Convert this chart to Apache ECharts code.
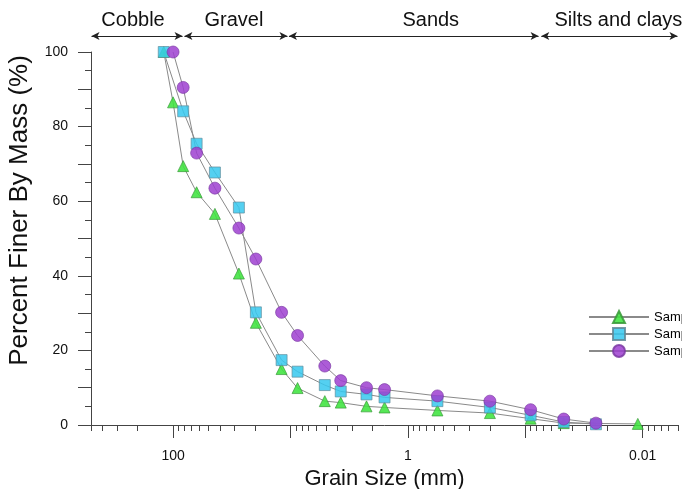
<!DOCTYPE html>
<html><head><meta charset="utf-8">
<script src="https://cdn.jsdelivr.net/npm/echarts@6/dist/echarts.min.js"></script>
<style>html,body{margin:0;padding:0;background:#fff}#c{width:682px;height:489px}</style>
</head><body><div id="c"></div>
<script>
// ---- data (grain size in mm, percent finer by mass) ----
const seriesNames = ['Sample 1', 'Sample 2', 'Sample 3'];
const s1Sizes  = [120, 100, 82, 63, 44, 27.5, 19.7, 11.9, 8.7, 5.1, 3.73, 2.25, 1.58, 0.56, 0.2, 0.09, 0.047, 0.011];
const s1Values = [100, 86.5, 69.4, 62.4, 56.6, 40.6, 27.4, 15.0, 9.9, 6.4, 6.0, 5.0, 4.7, 3.9, 3.2, 1.7, 0.5, 0.3];
const s2Sizes  = [120, 82, 63, 44, 27.5, 19.7, 11.9, 8.7, 5.1, 3.73, 2.25, 1.58, 0.56, 0.2, 0.09, 0.047, 0.025];
const s2Values = [100, 84.1, 75.4, 67.7, 58.3, 30.2, 17.4, 14.3, 10.7, 9.0, 8.2, 7.4, 6.4, 4.7, 2.6, 0.8, 0.2];
const s3Sizes  = [100, 82, 63, 44, 27.5, 19.7, 11.9, 8.7, 5.1, 3.73, 2.25, 1.58, 0.56, 0.2, 0.09, 0.047, 0.025];
const s3Values = [100, 90.5, 72.9, 63.5, 52.8, 44.5, 30.2, 24.0, 15.8, 11.9, 10.0, 9.5, 7.8, 6.4, 4.1, 1.6, 0.5];

// ---- axes ----
const xMin = 0.005, xMax = 500;
const xMajorTicks = [100, 10, 1, 0.1, 0.01];
const xLabelValues = [100, 1, 0.01];
const xTickLabels = ['100', '1', '0.01'];
const xMinorTicks = [500, 400, 300, 200, 90, 80, 70, 60, 50, 40, 30, 20, 9, 8, 7, 6, 5, 4, 3, 2,
  0.9, 0.8, 0.7, 0.6, 0.5, 0.4, 0.3, 0.2, 0.09, 0.08, 0.07, 0.06, 0.05, 0.04, 0.03, 0.02,
  0.009, 0.008, 0.007, 0.006, 0.005];
const yLabelValues = [0, 20, 40, 60, 80, 100];

// ---- soil class bands ----
const bandNames = ['Cobble', 'Gravel', 'Sands', 'Silts and clays'];
const bandFrom = [495, 80, 10.3, 0.073];
const bandTo   = [83, 10.6, 0.077, 0.00505];

const FONT = 'Liberation Sans';
const lg = Math.log10;
const AXIS_COLOR = '#444';

const chart = echarts.init(document.getElementById('c'), null, {renderer: 'canvas'});

const common = {
  type: 'line', xAxisIndex: 0, yAxisIndex: 0, clip: false,
  lineStyle: {color: '#8a8a8a', width: 1},
  emphasis: {disabled: true}
};

const bandLabelShift = [-4, -2, 17, 9];

const option = {
  animation: false,
  backgroundColor: '#fff',
  textStyle: {fontFamily: FONT},
  grid: [
    {left: 91, right: 4, top: 52, bottom: 64, outerBoundsMode: 'none', containLabel: false},
    {left: 91, right: 4, top: 26, height: 20, outerBoundsMode: 'none', containLabel: false}
  ],
  legend: {
    orient: 'vertical', left: 583, top: 305,
    itemWidth: 60, itemHeight: 15, itemGap: 3,
    data: seriesNames,
    textStyle: {fontFamily: FONT, fontSize: 13, color: '#000'},
    selectedMode: false
  },
  xAxis: [
    {
      type: 'log', gridIndex: 0, position: 'bottom', min: xMin, max: xMax, inverse: true, logBase: 10,
      axisLine: {show: true, onZero: false, lineStyle: {color: AXIS_COLOR, width: 1}},
      axisTick: {show: false}, axisLabel: {show: false}, splitLine: {show: false}, minorTick: {show: false}
    },
    {
      type: 'value', gridIndex: 0, position: 'bottom', min: lg(xMin), max: lg(xMax), inverse: true,
      axisLine: {show: false, onZero: false},
      axisTick: {show: true, length: 13, customValues: xMajorTicks.map(lg), lineStyle: {color: AXIS_COLOR}},
      axisLabel: {
        show: true, margin: 24, fontSize: 14, color: '#111', fontFamily: FONT,
        customValues: xLabelValues.map(lg),
        formatter: function (v) {
          for (let i = 0; i < xLabelValues.length; i++) {
            if (Math.abs(lg(xLabelValues[i]) - v) < 1e-6) return xTickLabels[i];
          }
          return '';
        }
      },
      splitLine: {show: false},
      name: 'Grain Size (mm)', nameLocation: 'middle', nameGap: 41,
      nameTextStyle: {fontSize: 22, color: '#111', fontFamily: FONT}
    },
    {
      type: 'value', gridIndex: 0, position: 'bottom', min: lg(xMin), max: lg(xMax), inverse: true,
      axisLine: {show: false, onZero: false},
      axisTick: {show: true, length: 6, customValues: xMinorTicks.map(lg), lineStyle: {color: AXIS_COLOR}},
      axisLabel: {show: false}, splitLine: {show: false}
    },
    {
      type: 'log', gridIndex: 1, position: 'bottom', min: xMin, max: xMax, inverse: true, show: false
    }
  ],
  yAxis: [
    {
      type: 'value', gridIndex: 0, position: 'left', min: 0, max: 100, interval: 10,
      axisLine: {show: true, onZero: false, lineStyle: {color: AXIS_COLOR, width: 1}},
      axisTick: {show: true, length: 13, lineStyle: {color: AXIS_COLOR}},
      minorTick: {show: true, splitNumber: 2, length: 6, lineStyle: {color: AXIS_COLOR}},
      splitLine: {show: false},
      axisLabel: {
        margin: 23, fontSize: 14, color: '#111', fontFamily: FONT,
        formatter: function (v) { return yLabelValues.indexOf(v) >= 0 ? String(v) : ''; }
      },
      name: 'Percent Finer By Mass (%)', nameLocation: 'middle', nameGap: 58,
      nameTextStyle: {fontSize: 26, color: '#111', fontFamily: FONT, padding: [0, 0, 0, 56]}
    },
    {type: 'value', gridIndex: 1, min: 0, max: 1, show: false}
  ],
  series: [
    Object.assign({}, common, {
      name: seriesNames[0], symbol: 'triangle', symbolSize: 11,
      itemStyle: {color: '#3fe43f', borderColor: '#3a9a3a', borderWidth: 0.8, opacity: 0.88},
      data: s1Sizes.map((x, i) => [x, s1Values[i]])
    }),
    Object.assign({}, common, {
      name: seriesNames[1], symbol: 'rect', symbolSize: 11,
      itemStyle: {color: '#36c8ef', borderColor: '#5f8a99', borderWidth: 0.8, opacity: 0.85},
      data: s2Sizes.map((x, i) => [x, s2Values[i]])
    }),
    Object.assign({}, common, {
      name: seriesNames[2], symbol: 'circle', symbolSize: 12,
      itemStyle: {color: '#9e3fd0', borderColor: '#7b3aa3', borderWidth: 0.8, opacity: 0.85},
      data: s3Sizes.map((x, i) => [x, s3Values[i]])
    }),
    {
      type: 'line', name: 'bands', xAxisIndex: 3, yAxisIndex: 1, data: [], silent: true,
      markLine: {
        silent: true, animation: false,
        symbol: ['arrow', 'arrow'], symbolSize: [6, 8],
        lineStyle: {color: '#222', width: 1, type: 'solid'},
        label: {show: true, position: 'insideMiddleTop', formatter: '{b}', fontSize: 20,
                color: '#111', fontFamily: FONT, distance: 6},
        emphasis: {disabled: true},
        data: bandNames.map((n, i) => [
          {name: n, coord: [bandFrom[i], 0.5], label: {offset: [bandLabelShift[i], 0]}},
          {coord: [bandTo[i], 0.5]}
        ])
      }
    }
  ]
};
chart.setOption(option);
</script>
</body></html>
